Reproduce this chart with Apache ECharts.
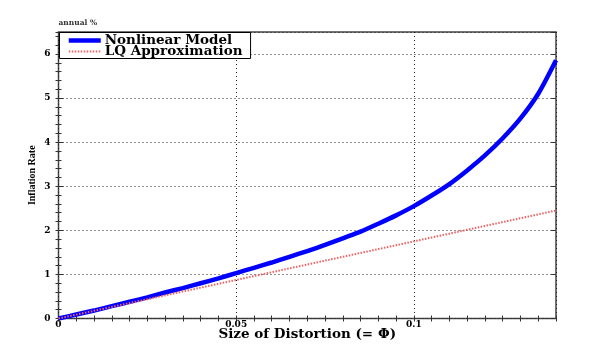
<!DOCTYPE html>
<html><head><meta charset="utf-8">
<script src="https://cdn.jsdelivr.net/npm/echarts@6/dist/echarts.min.js"></script>
<style>html,body{margin:0;padding:0;background:#fff}#c{width:600px;height:363px}</style>
</head><body><div id="c"></div>
<script>
var phi = [0,0.005,0.01,0.015,0.02,0.025,0.03,0.035,0.04,0.045,0.05,0.055,0.06,0.065,0.07,0.075,0.08,0.085,0.09,0.095,0.1,0.105,0.11,0.115,0.12,0.125,0.13,0.135,0.14];
var nonlinear = [0,0.09,0.18,0.28,0.38,0.48,0.59,0.69,0.80,0.91,1.03,1.15,1.27,1.40,1.53,1.67,1.82,1.97,2.15,2.34,2.55,2.79,3.05,3.36,3.70,4.09,4.54,5.10,5.86];
var lq = [0,0.0875,0.175,0.2625,0.35,0.4375,0.525,0.6125,0.70,0.7875,0.875,0.9625,1.05,1.1375,1.225,1.3125,1.40,1.4875,1.575,1.6625,1.75,1.8375,1.925,2.0125,2.10,2.1875,2.275,2.3625,2.45];
var seriesNames = ['Nonlinear Model','LQ Approximation'];
var xTickLabels = ['0','0.05','0.1'];
var yTickLabels = ['0','1','2','3','4','5','6'];

var serif = '"DejaVu Serif", "Liberation Serif", serif';
function pairs(xs, ys){ return xs.map(function(x,i){return [x, ys[i]];}); }
var grid = {left:58.5, right:44, top:32, bottom:44.5, show:true, borderColor:'#444', borderWidth:1.5, backgroundColor:'transparent'};
var gridLine = {show:true, lineStyle:{color:'#222', type:[1,3], width:1}};
var lbl = {fontFamily:serif, fontWeight:'bold', fontSize:9, color:'#000'};

var chart = echarts.init(document.getElementById('c'), null, {renderer:'canvas'});
chart.setOption({
  animation:false,
  backgroundColor:'#fff',
  grid: grid,
  legend:{
    orient:'vertical', left:59.5, top:32.5, itemWidth:32, itemHeight:10, itemGap:-3,
    padding:[1,8,0,7], backgroundColor:'#fff', borderColor:'#000', borderWidth:1,
    itemStyle:{opacity:0},
    lineStyle:{width:'inherit'},
    textStyle:{fontFamily:serif, fontWeight:'bold', fontSize:13.5, lineHeight:10, color:'#000', padding:[0,0,0,-1]},
    data: seriesNames
  },
  xAxis:[
    {type:'value', position:'bottom', min:0, max:0.14, interval:0.05,
     name:'Size of Distortion (= \u03A6)', nameLocation:'middle', nameGap:9, nameMoveOverlap:false,
     nameTextStyle:{fontFamily:serif, fontWeight:'bold', fontSize:13.5, color:'#000', verticalAlign:'top'},
     axisLine:{show:false}, axisTick:{show:false}, splitLine:gridLine,
     axisLabel:Object.assign({margin:2, showMaxLabel:false, formatter:function(v){var i=Math.round(v/0.05); return xTickLabels[i]!==undefined?xTickLabels[i]:'';}}, lbl)},
    {type:'value', position:'bottom', min:0, max:0.14, interval:0.005,
     axisLine:{show:false}, axisLabel:{show:false}, splitLine:{show:false},
     axisTick:{show:true, inside:true, length:3, lineStyle:{color:'#333'}}},
    {type:'value', position:'top', min:0, max:0.14, interval:0.005,
     axisLine:{show:false}, axisLabel:{show:false}, splitLine:{show:false},
     axisTick:{show:true, inside:true, length:3, lineStyle:{color:'#333'}}}
  ],
  yAxis:[
    {type:'value', position:'left', min:0, max:6.5, interval:1,
     name:'annual %', nameLocation:'end', nameGap:5, nameMoveOverlap:false,
     nameTextStyle:{fontFamily:serif, fontWeight:'bold', fontSize:7.5, color:'#333', align:'left'},
     axisLine:{show:false}, axisTick:{show:true, inside:true, length:5, lineStyle:{color:'#333'}}, splitLine:gridLine,
     axisLabel:Object.assign({margin:8, showMaxLabel:false, formatter:function(v){var i=Math.round(v); return yTickLabels[i]!==undefined?yTickLabels[i]:'';}}, lbl)},
    {type:'value', position:'left', min:0, max:6.5, interval:0.2,
     name:'Inflation Rate', nameLocation:'middle', nameGap:21, nameRotate:90, nameMoveOverlap:false,
     nameTextStyle:{fontFamily:'"Liberation Serif", serif', fontWeight:'bold', fontSize:10, color:'#000'},
     axisLine:{show:false}, axisLabel:{show:false}, splitLine:{show:false},
     axisTick:{show:true, inside:true, length:3, lineStyle:{color:'#333'}}},
    {type:'value', position:'right', min:0, max:6.5, interval:0.2,
     axisLine:{show:false}, axisLabel:{show:false}, splitLine:{show:false},
     axisTick:{show:true, inside:true, length:3, lineStyle:{color:'#333'}}},
    {type:'value', position:'right', min:0, max:6.5, interval:1,
     axisLine:{show:false}, axisLabel:{show:false}, splitLine:{show:false},
     axisTick:{show:true, inside:true, length:5, lineStyle:{color:'#333'}}}
  ],
  series:[
    {name:seriesNames[0], type:'line', xAxisIndex:0, yAxisIndex:0, data:pairs(phi, nonlinear),
     showSymbol:false, symbol:'none', smooth:0.25, lineStyle:{color:'#0000ff', width:4.5}, itemStyle:{color:'#0000ff'}},
    {name:seriesNames[1], type:'line', xAxisIndex:0, yAxisIndex:0, data:pairs(phi, lq),
     showSymbol:false, symbol:'none', lineStyle:{color:'#f06060', width:2, type:[1.5,1.5]}, itemStyle:{color:'#f06060'}}
  ]
});
</script></body></html>
